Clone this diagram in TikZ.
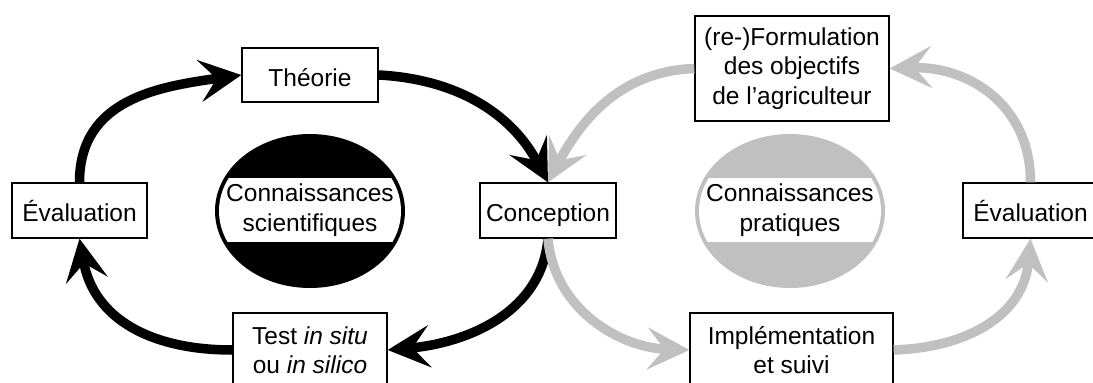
\documentclass[tikz,border=0pt]{standalone}
\usepackage{fontspec}
\setmainfont{Liberation Sans}
\usetikzlibrary{arrows.meta,shapes.geometric}
\definecolor{grayc}{RGB}{192,192,192}
\newcommand\fsz{\fontsize{24.5}{29.5}\selectfont}
\tikzset{
  box/.style={draw, line width=1.3pt, fill=white, font=\fsz, align=center, inner sep=0pt},
  onebox/.style={box, text height=22pt, text depth=0pt},
  bigtip/.style={-{Stealth[length=42pt,width=42pt,inset=17pt]}},
  blk/.style={line width=9.5pt, bigtip, black},
  gry/.style={line width=9.5pt, bigtip, grayc},
  etext/.style={font=\fsz, align=center, inner sep=0pt}
}
\begin{document}
\begin{tikzpicture}[x=1pt,y=1pt]
\useasboundingbox (0,0) rectangle (1093,-383);
\clip (0,0) rectangle (1093,-383);
% knowledge ellipses
\fill[black] (310,-211) ellipse [x radius=95, y radius=77];
\begin{scope}
  \clip (310,-211) ellipse [x radius=91, y radius=73];
  \fill[white] (200,-177.5) rectangle (420,-242);
\end{scope}
\node[etext] (ksci) at (310,-210) {Connaissances\\scientifiques};
\fill[grayc] (790,-211) ellipse [x radius=95, y radius=77];
\begin{scope}
  \clip (790,-211) ellipse [x radius=91, y radius=73];
  \fill[white] (680,-177.5) rectangle (900,-242);
\end{scope}
\node[etext] (kpra) at (790,-210) {Connaissances\\pratiques};
% boxes
\node[onebox, minimum width=136pt, minimum height=54pt] (theo) at (310,-75) {Théorie};
\node[onebox, minimum width=135pt, minimum height=55pt] (evalL) at (79.5,-210.5) {Évaluation};
\node[onebox, minimum width=136pt, minimum height=55pt] (conc) at (548,-210.5) {Conception};
\node[box, minimum width=154pt, minimum height=74pt] (test) at (310,-350) {Test \textit{in situ}\\ou \textit{in silico}};
\node[box, minimum width=194pt, minimum height=105pt] (formu) at (792,-68.5) {(re-)Formulation\\des objectifs\\de l’agriculteur};
\node[box, minimum width=203pt, minimum height=74pt] (impl) at (791.5,-350) {Implémentation\\et suivi};
\node[onebox, minimum width=135pt, minimum height=55pt] (evalR) at (1030.5,-210.5) {Évaluation};
% black cycle
\draw[blk] (evalL.north) to[out=90,in=188,looseness=1.1] (theo.west);
\draw[blk] (theo.east) to[out=-3,in=118,looseness=1.0] (conc.north);
\draw[blk] (conc.south) to[out=-95,in=5,looseness=1.0] (test.east);
\draw[blk] (test.west) to[out=180,in=-80,looseness=1.1] (evalL.south);
% gray cycle
\draw[gry] (formu.west) to[out=182,in=62,looseness=1.0] (conc.north);
\draw[gry] (conc.south) to[out=-85,in=178,looseness=1.0] (impl.west);
\draw[gry] (impl.east) to[out=2,in=-95,looseness=1.1] (evalR.south);
\draw[gry] (evalR.north) to[out=90,in=2,looseness=1.1] (formu.east);
\end{tikzpicture}
\end{document}
